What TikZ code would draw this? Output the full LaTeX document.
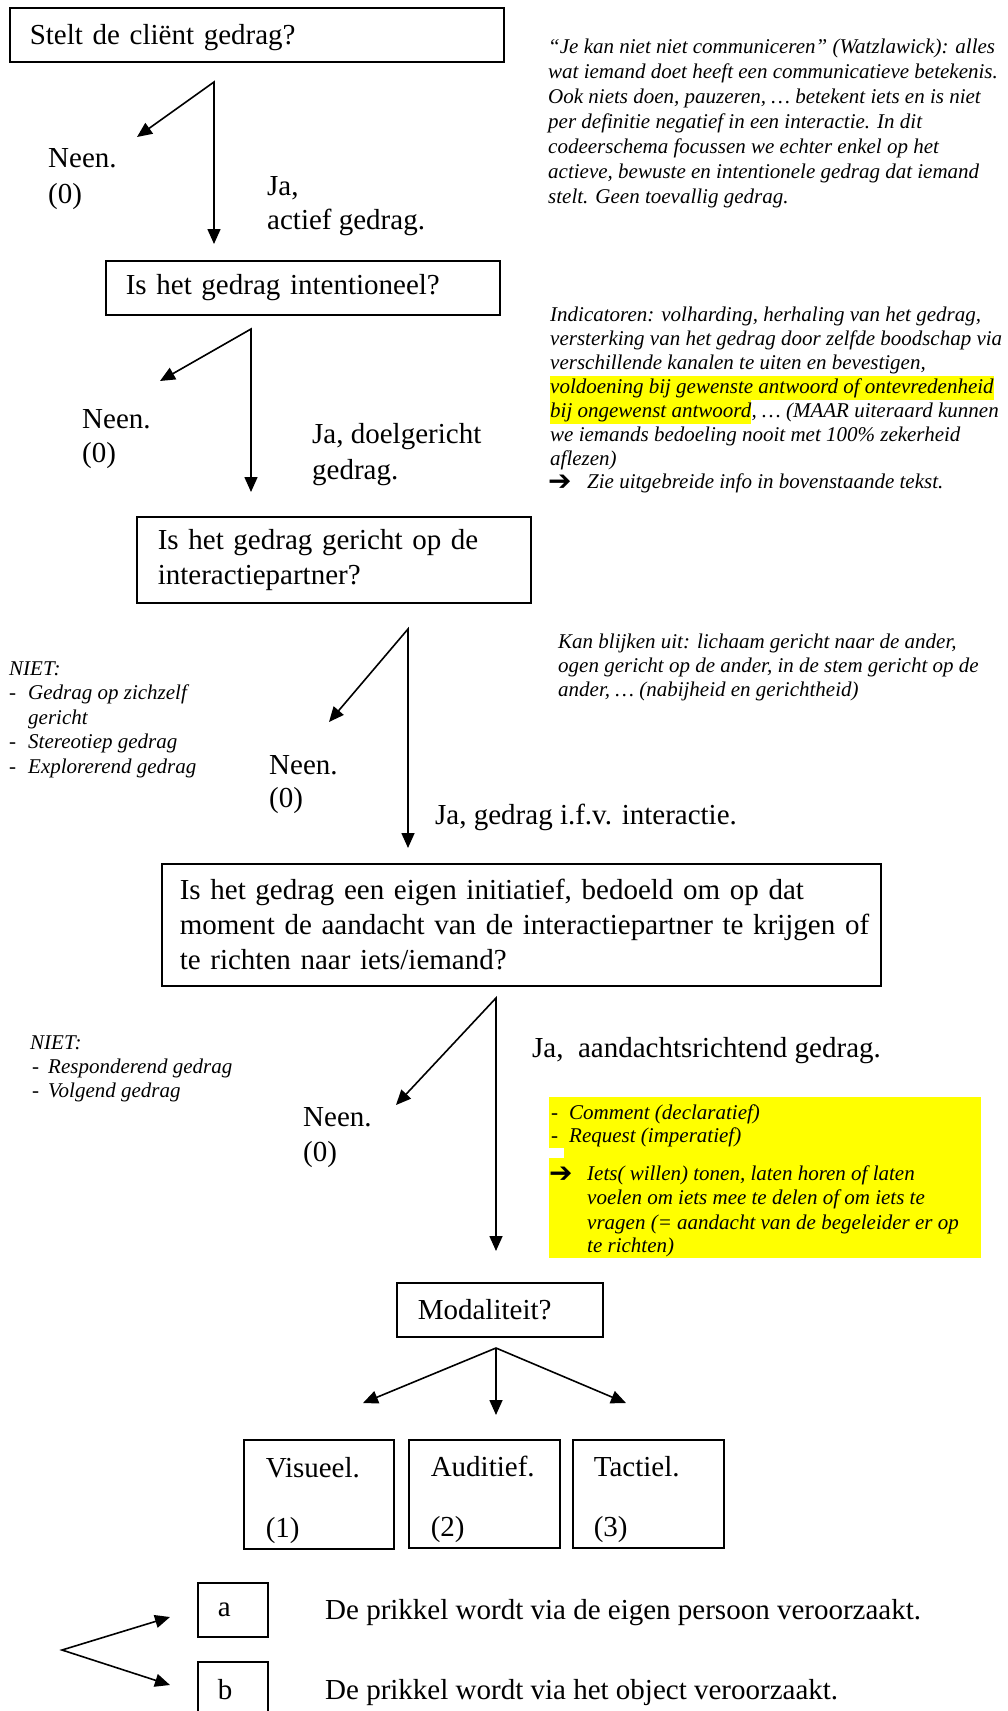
\documentclass[tikz,border=0pt]{standalone}
\usepackage{fontspec}
\setmainfont{Liberation Serif}
\newfontfamily\arrowfont{DejaVu Sans}
\usetikzlibrary{arrows.meta}
\definecolor{hl}{RGB}{255,255,0}
\begin{document}
\begin{tikzpicture}[x=1pt,y=-1pt,
 box/.style={draw, line width=1.6pt, anchor=north west, align=left, inner ysep=2pt, font=\fontsize{29}{35}\selectfont},
 lbl/.style={anchor=base west, inner sep=0pt, font=\fontsize{29}{35}\selectfont},
 note/.style={anchor=base west, inner sep=0pt, font=\fontsize{21}{24.5}\selectfont\itshape},
 hlnote/.style={note, fill=hl, text height=17pt, text depth=7pt},
 arrowglyph/.style={note, font=\fontsize{28}{28}\arrowfont\bfseries},
 arr/.style={line width=1.6pt, {Triangle[length=15pt,width=13pt]}-{Triangle[length=15pt,width=13pt]}},
 arrone/.style={line width=1.6pt, -{Triangle[length=15pt,width=13pt]}}]

\useasboundingbox (0,0) rectangle (1008,1711);
\fill[white] (0,0) rectangle (1008,1711);

% ---------- boxes ----------
\node[box, text width=454pt, inner xsep=20pt, minimum height=54pt, text depth=0pt] (b1) at (9,7) {Stelt de cliënt gedrag?};
\node[box, text width=354pt, inner xsep=20pt, minimum height=54pt] (b2) at (105,260) {Is het gedrag intentioneel?};
\node[box, text width=352pt, inner xsep=21pt, minimum height=86pt] (b3) at (136,516) {Is het gedrag gericht op de\\interactiepartner?};
\node[box, text width=683pt, inner xsep=18pt, minimum height=122pt] (b4) at (161,863) {\mbox{Is het gedrag een eigen initiatief, bedoeld om op dat}\\\mbox{moment de aandacht van de interactiepartner te krijgen of}\\\mbox{te richten naar iets/iemand?}};
\node[box, text width=164pt, inner xsep=21pt, minimum height=54pt] (mod) at (396,1282) {Modaliteit?};
\node[box, text width=106pt, inner xsep=22pt, minimum height=109pt] (v1) at (243,1439) {\rule{0pt}{32pt}Visueel.\\[25pt](1)};
\node[box, text width=107pt, inner xsep=22pt, minimum height=108pt] (v2) at (408,1439) {\rule{0pt}{32pt}Auditief.\\[25pt](2)};
\node[box, text width=109pt, inner xsep=21pt, minimum height=108pt] (v3) at (572,1439) {\rule{0pt}{32pt}Tactiel.\\[25pt](3)};
\node[box, text width=30pt, inner xsep=20pt, minimum height=54pt] (ba) at (197,1582) {a};
\node[box, text width=30pt, inner xsep=20pt, minimum height=56pt] (bb) at (197,1661) {b};

% ---------- arrows ----------
\coordinate (a1) at (214,82);  \coordinate (a1l) at (137,137); \coordinate (a1d) at (214,244);
\coordinate (a2) at (251,329); \coordinate (a2l) at (160,381); \coordinate (a2d) at (251,492);
\coordinate (a3) at (408,629); \coordinate (a3l) at (329,722); \coordinate (a3d) at (408,848);
\coordinate (a4) at (496,998); \coordinate (a4l) at (396,1105); \coordinate (a4d) at (496,1251);
\coordinate (a5) at (496,1348); \coordinate (a5l) at (363,1403); \coordinate (a5m) at (496,1415); \coordinate (a5r) at (626,1403);
\coordinate (a6) at (62,1650); \coordinate (a6u) at (170,1617); \coordinate (a6d) at (170,1685);
\draw[arr] (a1l) -- (a1) -- (a1d);
\draw[arr] (a2l) -- (a2) -- (a2d);
\draw[arr] (a3l) -- (a3) -- (a3d);
\draw[arr] (a4l) -- (a4) -- (a4d);
\draw[arr] (a5l) -- (a5) -- (a5r);
\draw[arrone] (a5) -- (a5m);
\draw[arr] (a6u) -- (a6) -- (a6d);

% ---------- main labels ----------
\node[lbl] (n1a) at (48,167) {Neen.};
\node[lbl] (n1b) at (48,203) {(0)};
\node[lbl] (j1a) at (267,195) {Ja,};
\node[lbl] (j1b) at (267,229) {actief gedrag.};
\node[lbl] (n2a) at (82,428) {Neen.};
\node[lbl] (n2b) at (82,462) {(0)};
\node[lbl] (j2a) at (312,443) {Ja, doelgericht};
\node[lbl] (j2b) at (312,479) {gedrag.};
\node[lbl] (n3a) at (269,774) {Neen.};
\node[lbl] (n3b) at (269,807) {(0)};
\node[lbl] (j3) at (435,824) {Ja, gedrag i.f.v. interactie.};
\node[lbl] (j4) at (532,1057) {Ja,\ \ aandachtsrichtend gedrag.};
\node[lbl] (n4a) at (303,1126) {Neen.};
\node[lbl] (n4b) at (303,1161) {(0)};
\node[lbl] (ta) at (325,1619) {De prikkel wordt via de eigen persoon veroorzaakt.};
\node[lbl] (tb) at (325,1699) {De prikkel wordt via het object veroorzaakt.};

% ---------- note 1 ----------
\foreach \t [count=\i from 0] in {%
 {“Je kan niet niet communiceren” (Watzlawick): alles},
 {wat iemand doet heeft een communicatieve betekenis.},
 {Ook niets doen, pauzeren, … betekent iets en is niet},
 {per definitie negatief in een interactie. In dit},
 {codeerschema focussen we echter enkel op het},
 {actieve, bewuste en intentionele gedrag dat iemand},
 {stelt. Geen toevallig gedrag.}}
 \node[note] (k\i) at (548,53+25*\i) {\t};

% ---------- note 2 ----------
\node[note] (m1) at (550,321) {Indicatoren: volharding, herhaling van het gedrag,};
\node[note] (m2) at (550,345) {versterking van het gedrag door zelfde boodschap via};
\node[note] (m3) at (550,369) {verschillende kanalen te uiten en bevestigen,};
\node[hlnote] (m4) at (550,393) {voldoening bij gewenste antwoord of ontevredenheid};
\node[hlnote] (m5) at (550,417) {bij ongewenst antwoord};
\node[note] (m5b) at (m5.base east) {, … (MAAR uiteraard kunnen};
\node[note] (m6) at (550,441) {we iemands bedoeling nooit met 100\% zekerheid};
\node[note] (m7) at (550,465) {aflezen)};
\node[arrowglyph] (m8a) at (548,490) {➔};
\node[note] (m8) at (587,488) {Zie uitgebreide info in bovenstaande tekst.};

% ---------- note 3 ----------
\node[note] (p1) at (558,648) {Kan blijken uit: lichaam gericht naar de ander,};
\node[note] (p2) at (558,672) {ogen gericht op de ander, in de stem gericht op de};
\node[note] (p3) at (558,696) {ander, … (nabijheid en gerichtheid)};

% ---------- NIET 1 ----------
\node[note] (q0) at (9,675) {NIET:};
\node[note] (q1d) at (9,699.5) {-};
\node[note] (q1) at (28,699.5) {Gedrag op zichzelf};
\node[note] (q1b) at (28,724) {gericht};
\node[note] (q2d) at (9,748.5) {-};
\node[note] (q2) at (28,748.5) {Stereotiep gedrag};
\node[note] (q3d) at (9,773) {-};
\node[note] (q3) at (28,773) {Explorerend gedrag};

% ---------- NIET 2 ----------
\node[note] (r0) at (30,1049) {NIET:};
\node[note] (r1d) at (32,1073) {-};
\node[note] (r1) at (48,1073) {Responderend gedrag};
\node[note] (r2d) at (32,1097) {-};
\node[note] (r2) at (48,1097) {Volgend gedrag};

% ---------- yellow block ----------
\node[fill=hl, anchor=north west, minimum width=432pt, minimum height=161pt, inner sep=0pt] (yb) at (549,1097) {};
\fill[white] (549,1148) rectangle (564,1158);
\node[note] (s1d) at (551,1119) {-};
\node[note] (s1) at (569,1119) {Comment (declaratief)};
\node[note] (s2d) at (551,1142) {-};
\node[note] (s2) at (569,1142) {Request (imperatief)};
\node[arrowglyph] (s3a) at (549,1182) {➔};
\node[note] (s3) at (587,1180) {Iets( willen) tonen, laten horen of laten};
\node[note] (s4) at (587,1204.5) {voelen om iets mee te delen of om iets te};
\node[note] (s5) at (587,1229) {vragen (= aandacht van de begeleider er op};
\node[note] (s6) at (587,1252) {te richten)};
\end{tikzpicture}
\end{document}
